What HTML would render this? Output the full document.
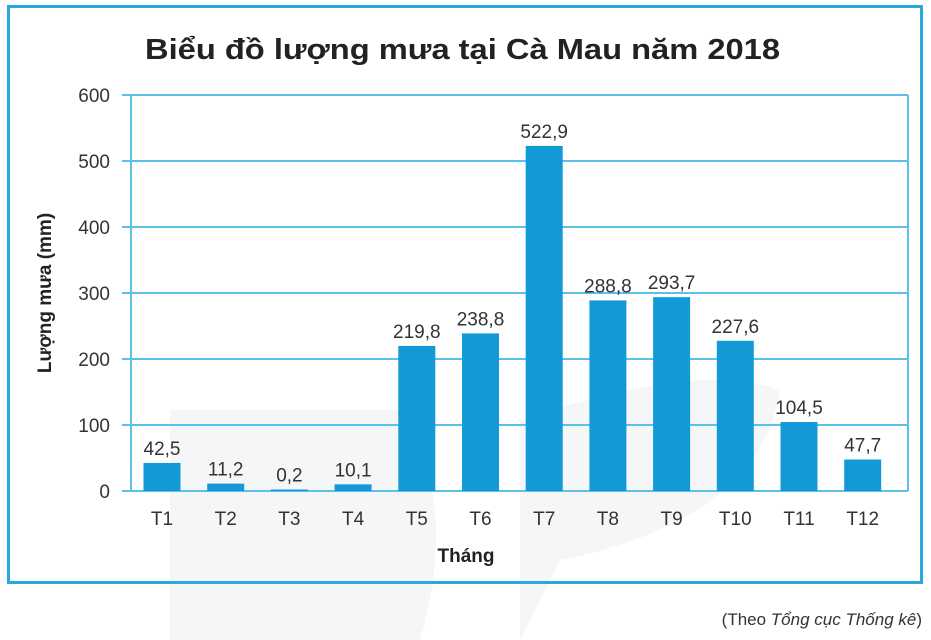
<!DOCTYPE html>
<html><head><meta charset="utf-8"><style>
body{margin:0;background:#fff;}
svg{display:block;font-family:"Liberation Sans","DejaVu Sans",sans-serif;}
</style></head><body>
<svg width="931" height="640" viewBox="0 0 931 640">
<rect width="931" height="640" fill="#fff"/>
<g fill="#f5f6f7">
<path d="M170 410 L400 410 Q460 500 420 640 L170 640 Z"/>
<path d="M520 420 Q700 360 780 390 Q760 520 560 560 L520 640 Z"/>
</g>
<rect x="8.5" y="6.5" width="913" height="576" fill="none" stroke="#29a9e0" stroke-width="3"/>
<text x="145" y="59" textLength="635" lengthAdjust="spacingAndGlyphs" font-size="29" font-weight="bold" fill="#222">Biểu đồ lượng mưa tại Cà Mau năm 2018</text>
<g stroke="#5bc0ea" stroke-width="2">
<line x1="122" y1="95" x2="908" y2="95"/>
<line x1="122" y1="161" x2="908" y2="161"/>
<line x1="122" y1="227" x2="908" y2="227"/>
<line x1="122" y1="293" x2="908" y2="293"/>
<line x1="122" y1="359" x2="908" y2="359"/>
<line x1="122" y1="425" x2="908" y2="425"/>
<line x1="122" y1="491" x2="908" y2="491"/>
<line x1="131" y1="95" x2="131" y2="491"/>
<line x1="908" y1="95" x2="908" y2="491"/>
</g>
<g font-size="19" fill="#333" text-anchor="end">
<text x="110" y="102">600</text><text x="110" y="168">500</text><text x="110" y="234">400</text>
<text x="110" y="300">300</text><text x="110" y="366">200</text><text x="110" y="432">100</text><text x="110" y="498">0</text>
</g>
<text transform="translate(51,293) rotate(-90)" text-anchor="middle" font-size="19" font-weight="bold" fill="#222">Lượng mưa (mm)</text>
<text x="466" y="562" text-anchor="middle" font-size="19" font-weight="bold" fill="#222">Tháng</text>
<g id="bars" fill="#139ad6"></g>
<g id="lbl" font-size="19" fill="#333" text-anchor="middle"></g>
<text x="922" y="625" text-anchor="end" font-size="17" fill="#333">(Theo <tspan font-style="italic">Tổng cục Thống kê</tspan>)</text>
<script>
var v=[42.5,11.2,0.2,10.1,219.8,238.8,522.9,288.8,293.7,227.6,104.5,47.7];
var b=document.getElementById('bars'),l=document.getElementById('lbl'),ns='http://www.w3.org/2000/svg';
v.forEach(function(d,i){var cx=162+i*63.7,h=Math.max(d*0.66,1.5);
var r=document.createElementNS(ns,'rect');r.setAttribute('x',cx-18.5);r.setAttribute('y',491-h);r.setAttribute('width',37);r.setAttribute('height',h);b.appendChild(r);
var t=document.createElementNS(ns,'text');t.setAttribute('x',cx);t.setAttribute('y',491-h-8);t.textContent=String(d).replace('.',',');l.appendChild(t);
var t2=document.createElementNS(ns,'text');t2.setAttribute('x',cx);t2.setAttribute('y',525);t2.textContent='T'+(i+1);l.appendChild(t2);});
</script>
</svg>
</body></html>
